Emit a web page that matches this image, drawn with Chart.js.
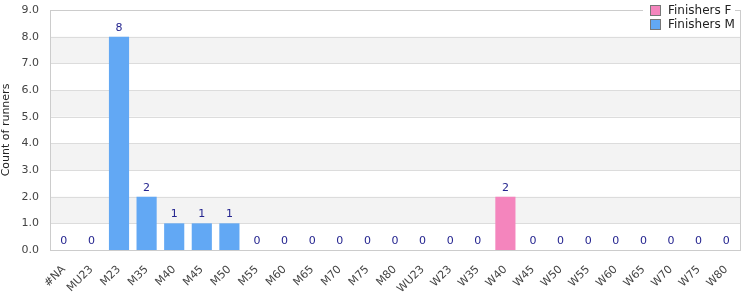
<!DOCTYPE html>
<html>
<head>
<meta charset="utf-8">
<script src="https://cdn.jsdelivr.net/npm/chart.js@4/dist/chart.umd.min.js"></script>
<style>
  html, body { margin: 0; padding: 0; background: #fff; }
  #wrap { width: 750px; height: 300px; }
</style>
</head>
<body>
<div id="wrap"><canvas id="ageChart" width="750" height="300"></canvas></div>
<script>
const categories = ['#NA', 'MU23', 'M23', 'M35', 'M40', 'M45', 'M50', 'M55', 'M60', 'M65', 'M70', 'M75', 'M80',
    'WU23', 'W23', 'W35', 'W40', 'W45', 'W50', 'W55', 'W60', 'W65', 'W70', 'W75', 'W80'];
const finishersF = [null, null, null, null, null, null, null, null, null, null, null, null, null,
    0, 0, 0, 2, 0, 0, 0, 0, 0, 0, 0, 0];
const finishersM = [0, 0, 8, 2, 1, 1, 1, 0, 0, 0, 0, 0, 0,
    null, null, null, null, null, null, null, null, null, null, null, null];
const yTicks = [0, 1, 2, 3, 4, 5, 6, 7, 8, 9];

const FONT = '"DejaVu Sans", Verdana, sans-serif';

// alternating bands + plot frame
const bandsPlugin = {
    id: 'bands',
    beforeDatasetsDraw(chart) {
        const { ctx, chartArea: a, scales: { y } } = chart;
        ctx.save();
        ctx.fillStyle = '#f3f3f3';
        for (let i = 1; i < yTicks.length - 1; i += 2) {
            const top = y.getPixelForValue(yTicks[i + 1]);
            const bot = y.getPixelForValue(yTicks[i]);
            ctx.fillRect(a.left, top, a.right - a.left, bot - top);
        }
        ctx.strokeStyle = '#dcdcdc';
        ctx.lineWidth = 1;
        yTicks.forEach(t => {
            const py = Math.round(y.getPixelForValue(t)) + 0.5;
            ctx.beginPath();
            ctx.moveTo(a.left, py);
            ctx.lineTo(a.right, py);
            ctx.stroke();
        });
        ctx.strokeStyle = '#cccccc';
        ctx.strokeRect(Math.round(a.left) + 0.5, Math.round(a.top) + 0.5,
            Math.round(a.right - a.left), Math.round(a.bottom - a.top));
        ctx.restore();
    }
};

// value labels above bars
const valueLabels = {
    id: 'valueLabels',
    afterDatasetsDraw(chart) {
        const { ctx } = chart;
        ctx.save();
        ctx.font = '11px ' + FONT;
        ctx.fillStyle = '#24248f';
        ctx.textAlign = 'center';
        ctx.textBaseline = 'alphabetic';
        chart.data.datasets.forEach((ds, di) => {
            chart.getDatasetMeta(di).data.forEach((bar, i) => {
                const v = ds.data[i];
                if (v === null || v === undefined) return;
                ctx.fillText(String(v), bar.x, bar.y - 6);
            });
        });
        ctx.restore();
    }
};

// legend in the top-right corner, over the frame
const cornerLegend = {
    id: 'cornerLegend',
    afterDraw(chart) {
        const { ctx } = chart;
        ctx.save();
        ctx.fillStyle = '#fff';
        ctx.fillRect(643, 0, 92, 34);
        ctx.font = '12px ' + FONT;
        ctx.textBaseline = 'middle';
        chart.data.datasets.forEach((ds, i) => {
            const y0 = 6 + i * 14;
            ctx.fillStyle = ds.backgroundColor;
            ctx.fillRect(651, y0, 9, 9);
            ctx.strokeStyle = '#777';
            ctx.lineWidth = 1;
            ctx.strokeRect(650.5, y0 - 0.5, 10, 10);
            ctx.fillStyle = '#222';
            ctx.fillText(ds.label, 668, y0 + 4.5);
        });
        ctx.restore();
    }
};

new Chart(document.getElementById('ageChart'), {
    type: 'bar',
    data: {
        labels: categories,
        datasets: [{
            label: 'Finishers F',
            data: finishersF,
            backgroundColor: '#f485bd'
        }, {
            label: 'Finishers M',
            data: finishersM,
            backgroundColor: '#62a8f4'
        }]
    },
    options: {
        responsive: false,
        animation: false,
        events: [],
        layout: { padding: { top: 10, right: 10, left: 0, bottom: 0 } },
        datasets: { bar: { barPercentage: 0.73, categoryPercentage: 1 } },
        plugins: { legend: { display: false }, tooltip: { enabled: false } },
        scales: {
            x: {
                stacked: true,
                grid: { display: false },
                border: { display: false },
                ticks: {
                    autoSkip: false,
                    minRotation: 45,
                    maxRotation: 45,
                    color: '#444',
                    padding: 5,
                    font: { family: FONT, size: 11 }
                },
                afterFit(scale) { scale.height = 50; }
            },
            y: {
                stacked: true,
                min: 0,
                max: 9,
                afterBuildTicks(scale) { scale.ticks = yTicks.map(v => ({ value: v })); },
                grid: { display: false },
                border: { display: false },
                ticks: {
                    color: '#444',
                    padding: 3,
                    font: { family: FONT, size: 11 },
                    callback: v => Number(v).toFixed(1)
                },
                title: {
                    display: true,
                    text: 'Count of runners',
                    color: '#222',
                    padding: { top: 0, bottom: 2 },
                    font: { family: FONT, size: 11 }
                },
                afterFit(scale) { scale.width = 50; }
            }
        }
    },
    plugins: [bandsPlugin, valueLabels, cornerLegend]
});
</script>
</body>
</html>
